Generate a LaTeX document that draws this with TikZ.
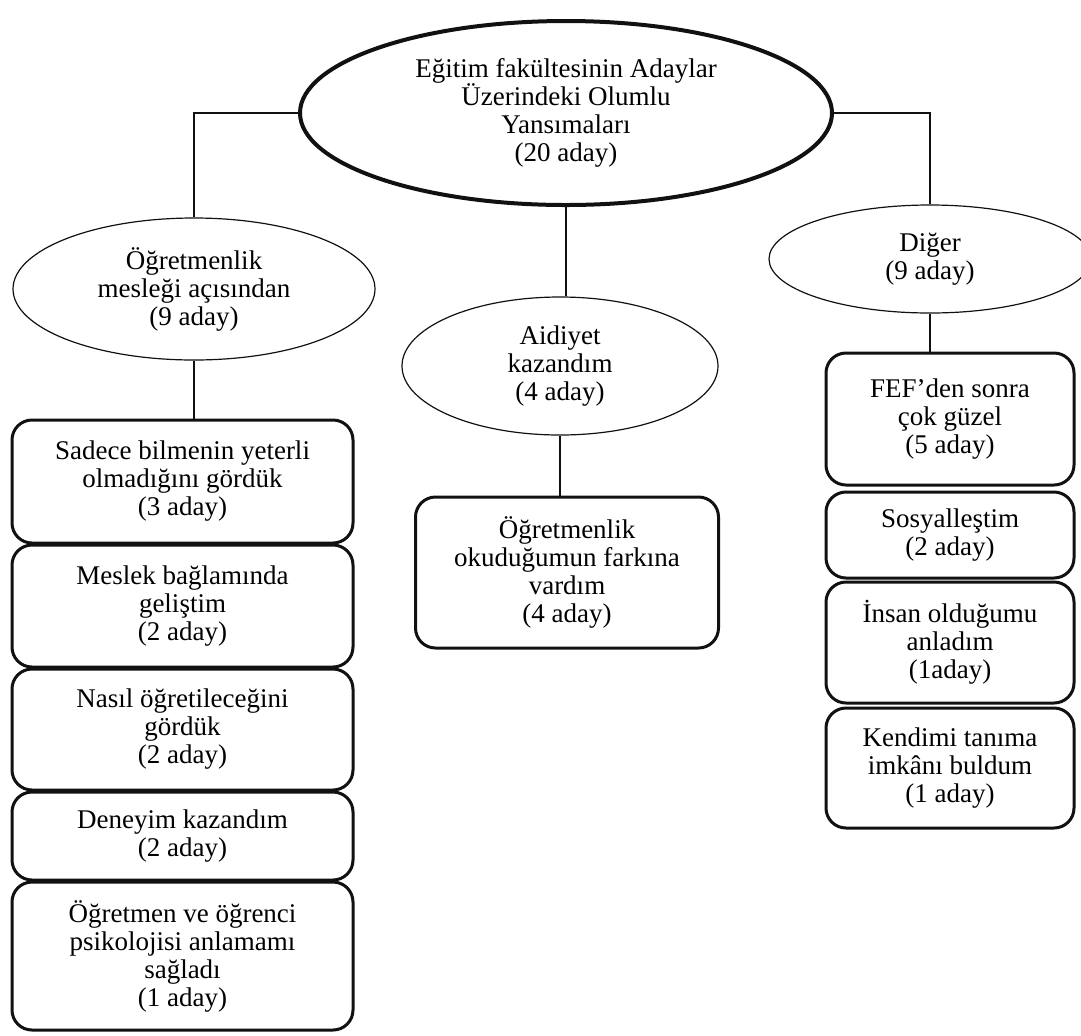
\documentclass[tikz,border=0pt]{standalone}
\usepackage{fontspec}
\setmainfont{Liberation Serif}
\usetikzlibrary{shapes.geometric}
\definecolor{LineBlack}{HTML}{111111}

\tikzset{
  mainEllipse/.style={ellipse, draw=LineBlack, line width=2pt, inner sep=0pt,
    align=center, font=\fontsize{13.5}{14}\selectfont},
  subEllipse/.style={ellipse, draw=LineBlack, line width=0.6pt, inner sep=0pt,
    align=center, font=\fontsize{13.5}{14}\selectfont},
  itemBox/.style={rectangle, rounded corners=10pt, draw=LineBlack,
    line width=1.5pt, inner sep=0pt, align=center,
    font=\fontsize{13.5}{14}\selectfont},
}

\begin{document}
\begin{tikzpicture}[x=0.5pt, y=-0.5pt]
      \clip (0,0) rectangle (1081,1035);
      % Root
      \node[mainEllipse, minimum width=266pt, minimum height=92pt] (root) at (566,113)
      {Eğitim fakültesinin Adaylar\\Üzerindeki Olumlu\\Yansımaları\\(20 aday)};
      % Themes
      \node[subEllipse, minimum width=181pt, minimum height=71pt] (meslek) at (194,289)
      {Öğretmenlik\\mesleği açısından\\(9 aday)};
      \node[subEllipse, minimum width=158pt, minimum height=69pt] (aidiyet) at (560,366)
      {Aidiyet\\kazandım\\(4 aday)};
      \node[subEllipse, minimum width=161pt, minimum height=54pt] (diger) at (930,259)
      {Diğer\\(9 aday)};
      % Left column
      \node[itemBox, minimum width=170.5pt, minimum height=61.5pt] (m1) at (182.5,481.5)
      {Sadece bilmenin yeterli\\olmadığını gördük\\(3 aday)};
      \node[itemBox, minimum width=170.5pt, minimum height=61pt] (m2) at (182.5,606)
      {Meslek bağlamında\\geliştim\\(2 aday)};
      \node[itemBox, minimum width=170.5pt, minimum height=60.5pt] (m3) at (182.5,729.5)
      {Nasıl öğretileceğini\\gördük\\(2 aday)};
      \node[itemBox, minimum width=170.5pt, minimum height=44pt] (m4) at (182.5,836)
      {Deneyim kazandım\\(2 aday)};
      \node[itemBox, minimum width=170.5pt, minimum height=74pt] (m5) at (182.5,956)
      {Öğretmen ve öğrenci\\psikolojisi anlamamı\\sağladı\\(1 aday)};
      % Middle column
      \node[itemBox, minimum width=151.5pt, minimum height=75.5pt] (a1) at (567,572.5)
      {Öğretmenlik\\okuduğumun farkına\\vardım\\(4 aday)};
      % Right column
      \node[itemBox, minimum width=124pt, minimum height=66pt] (d1) at (950,419)
      {FEF’den sonra\\çok güzel\\(5 aday)};
      \node[itemBox, minimum width=124pt, minimum height=43pt] (d2) at (950,535)
      {Sosyalleştim\\(2 aday)};
      \node[itemBox, minimum width=124pt, minimum height=60.5pt] (d3) at (950,642.5)
      {İnsan olduğumu\\anladım\\(1aday)};
      \node[itemBox, minimum width=124pt, minimum height=60pt] (d4) at (950,768)
      {Kendimi tanıma\\imkânı buldum\\(1 aday)};
      % Connectors
      \draw[LineBlack, line width=1.4pt] (root.west) -| (meslek.north);
      \draw[LineBlack, line width=1.4pt] (root.east) -| (diger.north);
      \draw[LineBlack, line width=1.4pt] (root.south) -- (root.south |- aidiyet.north);
      \draw[LineBlack, line width=0.8pt] (meslek.south) -- (meslek.south |- m1.north);
      \draw[LineBlack, line width=0.8pt] (aidiyet.south) -- (aidiyet.south |- a1.north);
      \draw[LineBlack, line width=0.8pt] (diger.south) -- (diger.south |- d1.north);
    \end{tikzpicture}
\end{document}
